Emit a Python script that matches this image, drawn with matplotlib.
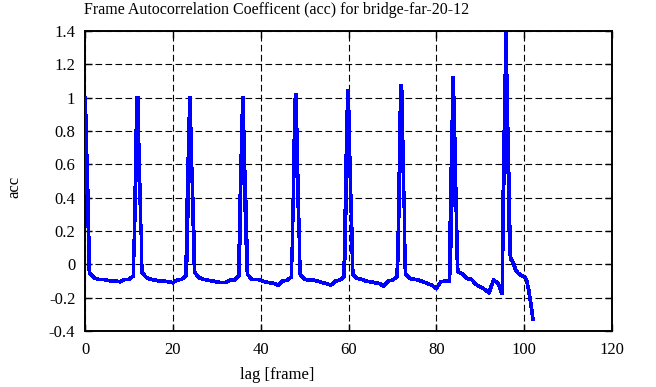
import numpy as np
import matplotlib
matplotlib.use("Agg")
import matplotlib.pyplot as plt
from matplotlib.ticker import FuncFormatter

plt.rcParams['font.family'] = ['Liberation Serif', 'DejaVu Serif']
plt.rcParams['axes.unicode_minus'] = False

title = "Frame Autocorrelation Coefficent (acc) for bridge-far-20-12"
xlabel = "lag [frame]"
ylabel = "acc"

xticks = [0, 20, 40, 60, 80, 100, 120]
yticks = [-0.4, -0.2, 0, 0.2, 0.4, 0.6, 0.8, 1.0, 1.2, 1.4]

# lag 0 .. 0.9 (sub-frame samples)
head_acc = [1.00, 0.97, 0.84, 0.62, 0.66, 0.42, 0.48, 0.22, 0.26, 0.02]

# spike centres and sub-frame sample values at k-0.9 .. k+0.9
spike_centres = [12, 24, 36, 48, 60, 72, 84, 96]
spike12 = [0.14, 0.05, 0.38, 0.26, 0.62, 0.50, 0.86, 0.74, 1.00, 1.00, 0.70, 0.78, 0.54, 0.62, 0.36, 0.44, 0.18, 0.24, 0.00]
spike24 = [0.10, 0.02, 0.40, 0.28, 0.64, 0.52, 0.88, 0.76, 1.00, 1.00, 0.72, 0.80, 0.52, 0.58, 0.34, 0.40, 0.14, 0.20, -0.02]
spike36 = [0.12, 0.03, 0.42, 0.30, 0.66, 0.54, 0.90, 0.78, 1.00, 1.00, 0.74, 0.80, 0.50, 0.56, 0.32, 0.38, 0.12, 0.18, -0.02]
spike48 = [0.10, 0.02, 0.38, 0.26, 0.64, 0.52, 0.88, 0.76, 1.02, 1.02, 0.72, 0.82, 0.55, 0.62, 0.34, 0.42, 0.16, 0.22, -0.01]
spike60 = [0.12, 0.03, 0.42, 0.30, 0.66, 0.52, 0.92, 0.55, 1.04, 1.04, 0.76, 0.84, 0.56, 0.62, 0.36, 0.42, 0.16, 0.22, 0.00]
spike72 = [-0.05, 0.10, 0.02, 0.40, 0.28, 0.66, 0.55, 0.92, 0.80, 1.07, 1.07, 0.80, 0.86, 0.56, 0.62, 0.34, 0.40, 0.10, 0.00]
spike84 = [0.00, 0.30, 0.10, 0.58, 0.35, 0.86, 0.62, 1.12, 1.12, 0.90, 0.99, 0.70, 0.73, 0.42, 0.46, 0.18, 0.20, -0.02, -0.03]
spike96 = [0.05, 0.44, 0.30, 0.80, 0.60, 1.14, 0.95, 1.385, 1.385, 1.10, 1.14, 0.79, 0.82, 0.52, 0.55, 0.20, 0.24, 0.06, 0.04]
spikes = [spike12, spike24, spike36, spike48, spike60, spike72, spike84, spike96]

# integer-lag values between spikes (k-11 .. k-1 before each spike)
base_1_11 = [-0.05, -0.08, -0.09, -0.09, -0.095, -0.10, -0.10, -0.105, -0.09, -0.09, -0.07]
base_13_23 = [-0.05, -0.08, -0.09, -0.095, -0.10, -0.10, -0.105, -0.11, -0.095, -0.09, -0.07]
base_25_35 = [-0.05, -0.08, -0.09, -0.095, -0.10, -0.105, -0.11, -0.11, -0.095, -0.095, -0.07]
base_37_47 = [-0.06, -0.09, -0.09, -0.095, -0.105, -0.11, -0.115, -0.125, -0.10, -0.095, -0.075]
base_49_59 = [-0.06, -0.09, -0.095, -0.095, -0.10, -0.11, -0.115, -0.125, -0.10, -0.095, -0.075]
base_61_71 = [-0.06, -0.085, -0.09, -0.10, -0.105, -0.11, -0.115, -0.13, -0.10, -0.095, -0.075]
base_73_83 = [-0.06, -0.085, -0.09, -0.095, -0.105, -0.115, -0.125, -0.145, -0.105, -0.10, -0.10]
base_85_95 = [-0.045, -0.06, -0.085, -0.09, -0.12, -0.135, -0.15, -0.17, -0.095, -0.11, -0.18]
bases = [base_1_11, base_13_23, base_25_35, base_37_47, base_49_59, base_61_71, base_73_83, base_85_95]

tail_lags = [97, 97.5, 98, 98.5, 99, 99.5, 100, 100.5, 101, 101.5, 102]
tail_acc = [0.03, 0.01, -0.03, -0.05, -0.06, -0.07, -0.075, -0.09, -0.15, -0.23, -0.33]

# assemble series
lag = list(np.arange(len(head_acc)) * 0.1)
acc = list(head_acc)
for c, sp, bs in zip(spike_centres, spikes, bases):
    start = c - 11
    lag += [start + i for i in range(len(bs))]
    acc += bs
    lag += [c + (i - 9) * 0.1 for i in range(len(sp))]
    acc += sp
lag += tail_lags
acc += tail_acc

fig = plt.figure(figsize=(6.56, 3.87), dpi=100)
ax = fig.add_axes([85/656, 1-331/387, (612-85)/656, 300/387])

ax.plot(lag, acc, color=(0, 0, 1), lw=1.9, zorder=3, antialiased=False,
        solid_joinstyle='miter')

ax.set_xlim(0, 120)
ax.set_ylim(-0.4, 1.4)
ax.set_xticks(xticks)
ax.set_yticks(yticks)
ax.yaxis.set_major_formatter(FuncFormatter(lambda v, p: "%g" % round(v, 1)))
ax.grid(True, color='black', linestyle=(0, (6, 3)), lw=0.8)
ax.tick_params(direction='in', length=5, width=1, top=True, right=True,
               labelsize=12, colors='black')
ax.tick_params(axis='x', pad=8)
ax.tick_params(axis='y', pad=7)
for s in ax.spines.values():
    s.set_linewidth(1.4)

fig.text(277/656, 1-10/387, title, fontsize=11.5, ha='center', va='center')
fig.text(277/656, 1-375/387, xlabel, fontsize=12, ha='center', va='center')
fig.text(14/656, 1-187/387, ylabel, fontsize=12, rotation=90, ha='center', va='center')

fig.savefig("out.png", dpi=100)
